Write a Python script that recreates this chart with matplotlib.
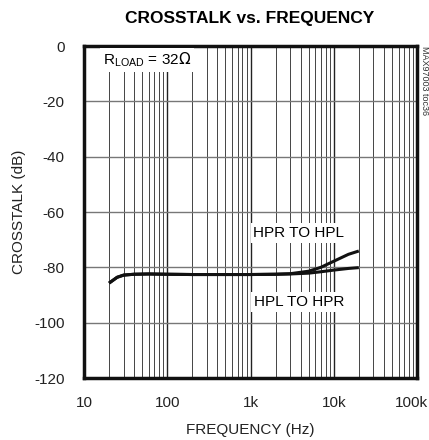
import matplotlib
matplotlib.use("Agg")
import matplotlib.pyplot as plt
import matplotlib.transforms as mtransforms
import numpy as np

plt.rcParams['font.family'] = ['Liberation Sans Narrow', 'Liberation Sans', 'DejaVu Sans']

# data
freq_hz = [20, 25, 30, 40, 60, 100, 200, 500, 1000, 2000, 3000, 5000, 7000, 10000, 15000, 20000]
hpr_to_hpl = [-85.7, -83.6, -82.8, -82.5, -82.4, -82.5, -82.6, -82.6, -82.6, -82.5, -82.3, -81.4, -80.0, -77.8, -75.3, -74.1]
hpl_to_hpr = [-85.7, -83.6, -82.8, -82.5, -82.4, -82.5, -82.6, -82.6, -82.6, -82.5, -82.4, -82.1, -81.6, -81.0, -80.4, -80.1]
x_ticks = [10, 100, 1000, 10000, 100000]
x_labels = ['10', '100', '1k', '10k', '100k']
y_ticks = [0, -20, -40, -60, -80, -100, -120]

fig = plt.figure(figsize=(4.29, 4.40), dpi=100)
ax = fig.add_axes([84/429, 1-378/440, (417-84)/429, (378-46)/440])
ax.set_xscale('log')
ax.set_xlim(10, 100000)
ax.set_ylim(-120, 0)

ax.grid(True, which='minor', axis='x', color='#444444', lw=0.7)
ax.grid(True, which='major', axis='x', color='#222222', lw=1.0)
ax.grid(True, which='major', axis='y', color='#777777', lw=1.0)
ax.set_axisbelow(True)

ax.plot(freq_hz, hpr_to_hpl, color='#111111', lw=2.2, solid_capstyle='butt', zorder=3)
ax.plot(freq_hz, hpl_to_hpr, color='#111111', lw=2.2, solid_capstyle='butt', zorder=3)

ax.set_xticks(x_ticks)
ax.set_xticklabels(x_labels)
ax.set_yticks(y_ticks)
ax.set_yticklabels([str(v) for v in y_ticks])
ax.tick_params(which='both', length=0, labelsize=11, colors='#222222')
ax.tick_params(axis='x', pad=13)
ax.tick_params(axis='y', pad=14)
ax.xaxis.set_minor_formatter(matplotlib.ticker.NullFormatter())
for s in ax.spines.values():
    s.set_linewidth(2.5)
    s.set_color('#111111')

fig.canvas.draw()
last = ax.get_xticklabels()[-1]
last.set_transform(last.get_transform() + mtransforms.ScaledTranslation(-6/100, 0, fig.dpi_scale_trans))

bbox = dict(facecolor='white', edgecolor='none', pad=2)
ax.text(17, -5, r'R$_{\mathregular{LOAD}}$ = 32$\Omega$', fontsize=11, va='center', ha='left', bbox=bbox, zorder=4)
ax.text(3800, -67.6, 'HPR TO HPL', fontsize=11, va='center', ha='center', bbox=bbox, zorder=4)
ax.text(3800, -92.5, 'HPL TO HPR', fontsize=11, va='center', ha='center', bbox=bbox, zorder=4)

ax.set_xlabel('FREQUENCY (Hz)', fontsize=11, labelpad=9, color='#222222')
ax.set_ylabel('CROSSTALK (dB)', fontsize=11, labelpad=6, color='#222222')

fig.text(250/429, 1-18/440, 'CROSSTALK vs. FREQUENCY', fontsize=12.5, fontweight='bold', ha='center', va='center')
fig.text(424/429, 1-46/440, 'MAX97003 toc36', fontsize=6.5, rotation=270, ha='center', va='top', color='#333333')

fig.savefig('out.png', dpi=100)
